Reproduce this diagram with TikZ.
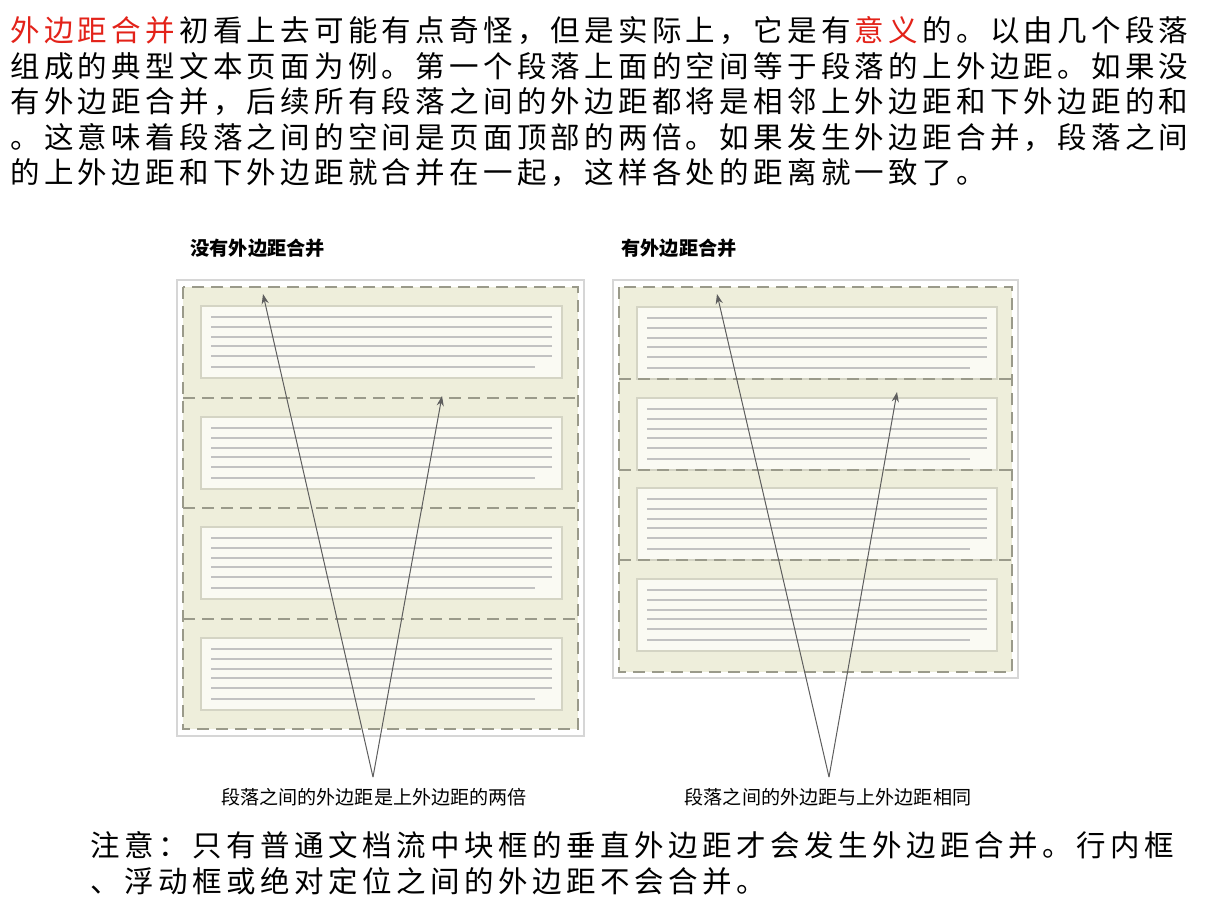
\documentclass[tikz,border=0pt]{standalone}
\usepackage{fontspec}
\newfontfamily\cjk{Noto Sans CJK SC}
\usetikzlibrary{arrows.meta}
\definecolor{margfill}{HTML}{EEEEDB}
\definecolor{boxfill}{HTML}{FAFAF3}
\definecolor{boxline}{HTML}{D4D4C4}
\definecolor{txtline}{HTML}{C2C2C2}
\definecolor{dashcol}{HTML}{9A9A8A}
\definecolor{redtxt}{HTML}{E32219}
\definecolor{arrcol}{HTML}{5E5E5E}
\makeatletter
\newcommand\cjkcells[2]{\@tfor\my@ch:=#2\do{\makebox[#1][l]{\my@ch}}}
\makeatother
\newcommand\bodyc[1]{\cjkcells{16.89pt}{#1}}
\newcommand\notec[1]{\cjkcells{17pt}{#1}}
\newcommand\mypbox[3]{%
  \draw[pbox] (#1,#3) rectangle (#2,#3+72);
  \foreach \d in {11,21,31,40,50} \draw[tline] (#1+10,#3+\d) -- (#2-10,#3+\d);
  \draw[tline] (#1+10,#3+61) -- (#2-27,#3+61);}
\begin{document}
\begin{tikzpicture}[x=0.5pt,y=-0.5pt,
  outerbox/.style={fill=white,draw=black!16,line width=0.75pt},
  margbox/.style={fill=margfill,draw=dashcol,line width=1pt,dash pattern=on 6pt off 3.5pt},
  sepline/.style={draw=dashcol,line width=1pt,dash pattern=on 6pt off 3.5pt},
  pbox/.style={fill=boxfill,draw=boxline,line width=0.75pt},
  tline/.style={draw=txtline,line width=0.6pt},
  bodytxt/.style={anchor=west,inner sep=0pt,font=\cjk\fontsize{14.75pt}{18pt}\selectfont},
  notetxt/.style={anchor=west,inner sep=0pt,font=\cjk\fontsize{14.75pt}{18pt}\selectfont},
  title/.style={anchor=west,inner sep=0pt,font=\cjk\bfseries\fontsize{9.6pt}{11pt}\selectfont},
  lbl/.style={inner sep=0pt,font=\cjk\fontsize{9.55pt}{11pt}\selectfont},
  arr/.style={draw=arrcol,line width=0.5pt,-{Stealth[length=5pt,width=3.6pt]}}]
\useasboundingbox[fill=white] (0,0) rectangle (1226,905);
% top paragraph
\node[bodytxt] (p1) at (10,31) {{\color{redtxt}\bodyc{外边距合并}}\bodyc{初看上去可能有点奇怪，但是实际上，它是有}{\color{redtxt}\bodyc{意义}}\bodyc{的。以由几个段落}};
\node[bodytxt] (p2) at (10,66.5) {\bodyc{组成的典型文本页面为例。第一个段落上面的空间等于段落的上外边距。如果没}};
\node[bodytxt] (p3) at (10,102) {\bodyc{有外边距合并，后续所有段落之间的外边距都将是相邻上外边距和下外边距的和}};
\node[bodytxt] (p4) at (10,137.5) {\bodyc{。这意味着段落之间的空间是页面顶部的两倍。如果发生外边距合并，段落之间}};
\node[bodytxt] (p5) at (10,173) {\bodyc{的上外边距和下外边距就合并在一起，这样各处的距离就一致了。}};
% titles
\node[title] (t1) at (190,248) {没有外边距合并};
\node[title] (t2) at (621,248) {有外边距合并};
% left diagram
\draw[outerbox] (177,280) rectangle (584,736);
\draw[margbox] (183,287) rectangle (578,729);
\foreach \y in {398,508,619} \draw[sepline] (183,\y) -- (578,\y);
\foreach \y in {306,417,527,638} {\mypbox{201}{562}{\y}}
% right diagram
\draw[outerbox] (613,280) rectangle (1018,678);
\draw[margbox] (619,287) rectangle (1012,672);
\foreach \y in {307,398,488,579} {\mypbox{637}{997}{\y}}
\foreach \y in {379,470,560} \draw[sepline] (619,\y) -- (1012,\y);
% labels
\node[lbl] (l1) at (374,797) {段落之间的外边距是上外边距的两倍};
\node[lbl] (l2) at (828,797) {段落之间的外边距与上外边距相同};
\coordinate (c1) at (373,777);
\coordinate (c2) at (829,777);
\coordinate (a1) at (263,294);
\coordinate (a2) at (442,396);
\coordinate (b1) at (717,294);
\coordinate (b2) at (897,392);
\draw[arr] (c1) -- (a1);
\draw[arr] (c1) -- (a2);
\draw[arr] (c2) -- (b1);
\draw[arr] (c2) -- (b2);
% note
\node[notetxt] (n1) at (90,845) {\notec{注意：只有普通文档流中块框的垂直外边距才会发生外边距合并。行内框}};
\node[notetxt] (n2) at (90,881) {\notec{、浮动框或绝对定位之间的外边距不会合并。}};
\end{tikzpicture}
\end{document}
